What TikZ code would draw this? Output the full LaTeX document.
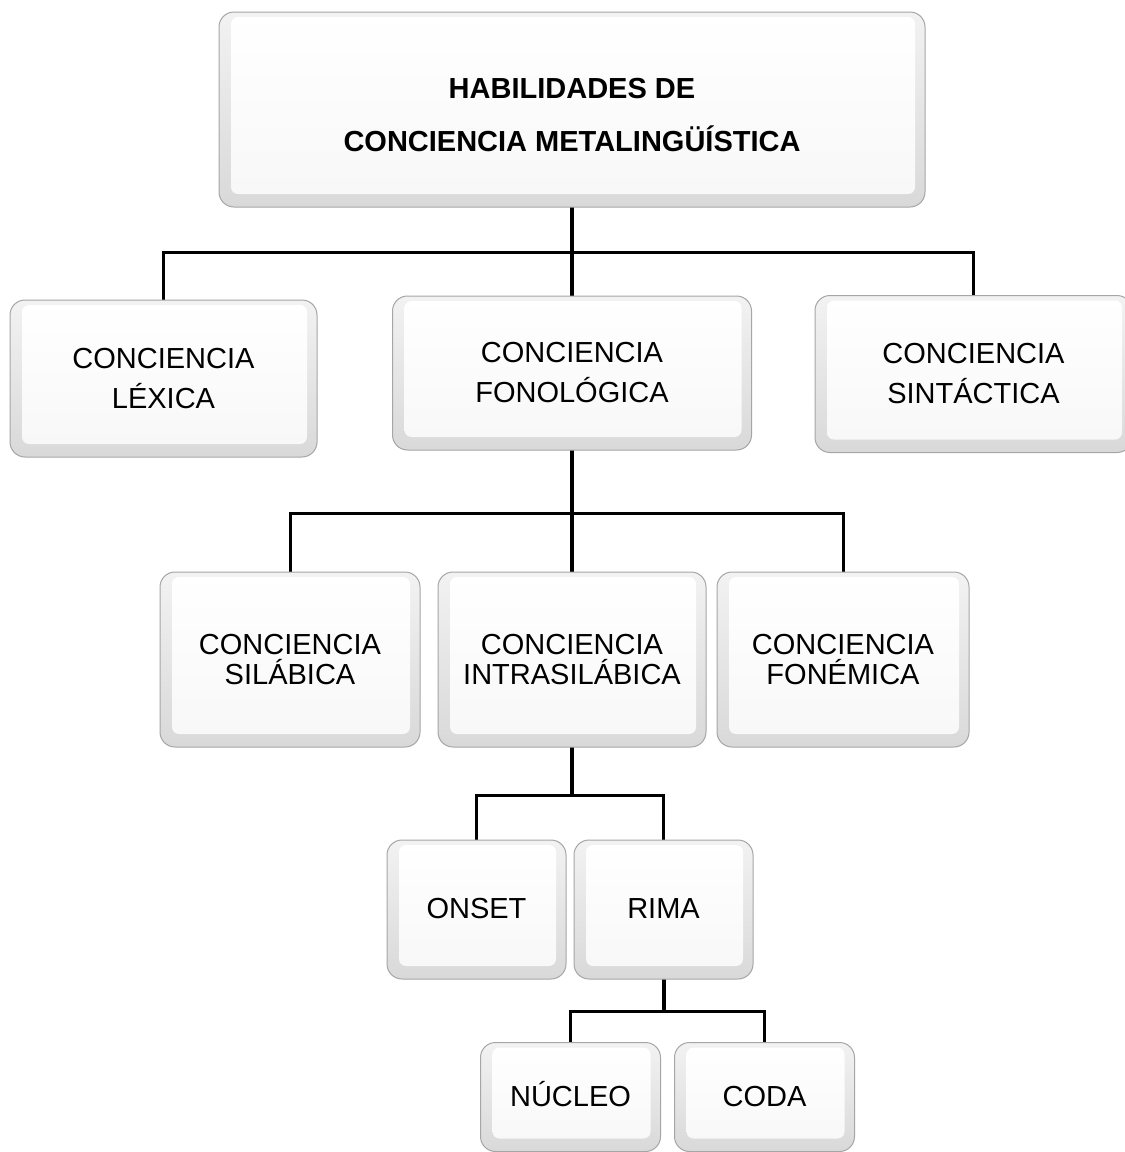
\documentclass[tikz,border=0pt]{standalone}
\usepackage{fontspec}
\setmainfont{Liberation Sans}
\usetikzlibrary{calc,backgrounds}
\begin{document}
\begin{tikzpicture}[x=1pt,y=-1pt,
  bevelbox/.style={rectangle, rounded corners=15pt, draw=gray!70, line width=1pt,
    top color=gray!10, bottom color=gray!30, inner sep=0pt, outer sep=0pt, align=center,
    path picture={
      \shade[top color=white, bottom color=gray!6, rounded corners=7pt]
        ($(path picture bounding box.south west)+(12pt,13pt)$) rectangle
        ($(path picture bounding box.north east)+(-10pt,-5pt)$);
    }},
  lvltop/.style={bevelbox, font=\bfseries\fontsize{29}{38}\selectfont},
  lvltwo/.style={bevelbox, font=\fontsize{29}{40}\selectfont},
  lvlthree/.style={bevelbox, font=\fontsize{29}{30}\selectfont},
  lvlfour/.style={bevelbox, font=\fontsize{29}{34}\selectfont, text height=22pt, text depth=4pt},
  stem/.style={line width=4pt, black},
  bus/.style={line width=3pt, black},
]
\useasboundingbox (0,0) rectangle (1125,1152);

% level 1
\node[lvltop, minimum width=706pt, minimum height=195pt] (top) at (572,109.5)
  {\rule{0pt}{31pt}HABILIDADES DE\\[15pt]CONCIENCIA METALINGÜÍSTICA};

% level 2
\node[lvltwo, minimum width=307pt, minimum height=157pt] (lex) at (163.5,378.5)
  {CONCIENCIA\\LÉXICA};
\node[lvltwo, minimum width=359pt, minimum height=154pt] (fon) at (572,373)
  {CONCIENCIA\\FONOLÓGICA};
\node[lvltwo, minimum width=317pt, minimum height=157pt] (sin) at (973.5,374)
  {CONCIENCIA\\SINTÁCTICA};

% level 3
\node[lvlthree, minimum width=260pt, minimum height=175pt] (sil) at (290,659.5)
  {CONCIENCIA\\SILÁBICA};
\node[lvlthree, minimum width=268pt, minimum height=175pt] (intra) at (572,659.5)
  {CONCIENCIA\\INTRASILÁBICA};
\node[lvlthree, minimum width=252pt, minimum height=175pt] (fonem) at (843,659.5)
  {CONCIENCIA\\FONÉMICA};

% level 4
\node[lvlfour, minimum width=179pt, minimum height=139pt] (onset) at (476.5,909.5) {ONSET};
\node[lvlfour, minimum width=179pt, minimum height=139pt] (rima) at (663.5,909.5) {RIMA};

% level 5
\node[lvlfour, minimum width=180pt, minimum height=109pt] (nuc) at (570.5,1097) {NÚCLEO};
\node[lvlfour, minimum width=180pt, minimum height=109pt] (coda) at (764.5,1097) {CODA};

% junction points
\path (top.south) ++(0,45) coordinate (b1);
\path (fon.south) ++(0,63) coordinate (b2);
\path (intra.south) ++(0,48) coordinate (b3);
\path (rima.south) ++(0,32) coordinate (b4);

\begin{scope}[on background layer]
  \fill[white] (0,0) rectangle (1125,1152);
  \draw[stem] (top.south) -- (b1) -- (fon.north);
  \draw[bus] (lex.north) |- (b1) -| (sin.north);
  \draw[stem] (fon.south) -- (b2) -- (intra.north);
  \draw[bus] (sil.north) |- (b2) -| (fonem.north);
  \draw[stem] (intra.south) -- (b3);
  \draw[bus] (onset.north) |- (b3) -| (rima.north);
  \draw[stem] (rima.south) -- (b4);
  \draw[bus] (nuc.north) |- (b4) -| (coda.north);
\end{scope}
\end{tikzpicture}
\end{document}
